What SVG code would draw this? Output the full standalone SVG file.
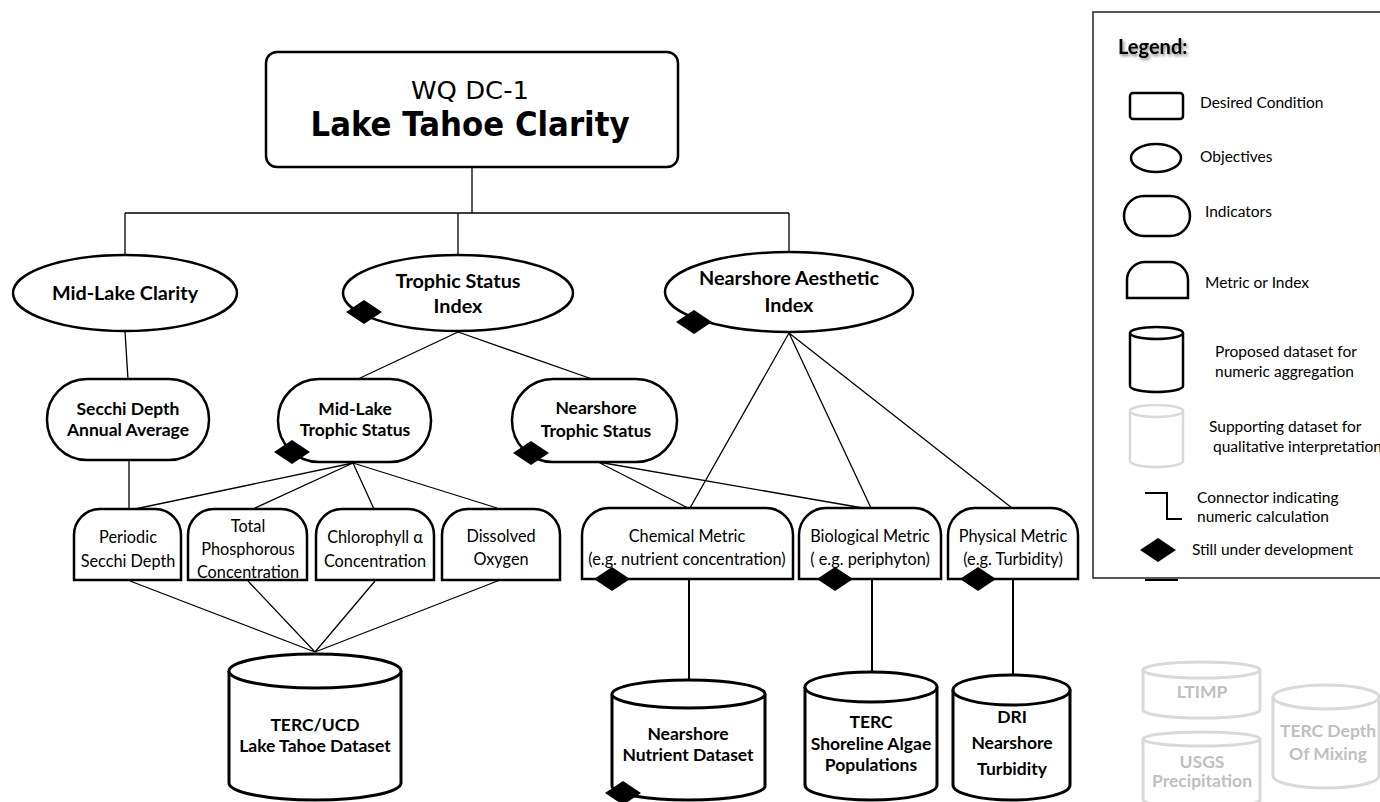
<svg xmlns="http://www.w3.org/2000/svg" width="1380" height="802" viewBox="0 0 1380 802">
<style>
.n{fill:#fff;stroke:#000;stroke-width:2.5}
.c{fill:none;stroke:#000;stroke-width:1.3}
.cy{fill:#fff;stroke:#000;stroke-width:3}
.gcy{fill:#fff;stroke:#d9d9d9;stroke-width:3}
.t{font-family:Lato,"Open Sans",sans-serif;text-anchor:middle;fill:#000}
.b{font-weight:bold}
.s16{font-size:16.3px}
.s17{font-size:17.5px}
.s18{font-size:19.8px}
.lg{font-family:Lato,"Open Sans",sans-serif;font-size:15.5px;fill:#000}
.gt{fill:#bfbfbf}
</style>
<defs>
<path id="dia" d="M-18,0 L0,-12 L18,0 L0,12 Z" fill="#000"/>
<filter id="sh" x="-20%" y="-50%" width="140%" height="200%"><feDropShadow dx="1.5" dy="2" stdDeviation="1.5" flood-color="#000" flood-opacity="0.5"/></filter>
</defs>
<g id="connectors">
<path class="c" d="M472,167 V213 M125,213 H789 M125,213 V255 M458,213 V255 M789,213 V252"/>
<path class="c" d="M125,332 L128,379"/>
<path class="c" d="M458,332 L358,379 M458,332 L592,379"/>
<path class="c" d="M129,460 V509"/>
<path class="c" d="M353,463 L135,509 M353,463 L253,509 M353,463 L374,509 M353,463 L497,508"/>
<path class="c" d="M598,462 L688,508 M598,462 L863,508"/>
<path class="c" d="M789,333 L690,508 M789,333 L871,508 M789,333 L1012,508"/>
<path class="c" d="M130,581 L315,652 M248,581 L315,652 M375,581 L315,652 M500,580 L315,652"/>
<path class="c" d="M689,579 V680 M872,579 V672 M1013,579 V675" style="stroke-width:2"/>
</g>
<g id="dc1">
<rect class="n" x="266" y="52" width="412" height="115" rx="11"/>
<text x="470" y="99" font-family="DejaVu Sans,sans-serif" font-size="24" text-anchor="middle" textLength="118" lengthAdjust="spacingAndGlyphs">WQ  DC-1</text>
<text x="470" y="136" font-family="DejaVu Sans,sans-serif" font-size="33" font-weight="bold" text-anchor="middle" textLength="319" lengthAdjust="spacingAndGlyphs">Lake Tahoe Clarity</text>
</g>
<g id="obj-midlake">
<ellipse class="n" cx="125" cy="293" rx="112" ry="38"/>
<text class="t b s18" x="125" y="300">Mid-Lake Clarity</text>
</g>
<g id="obj-trophic">
<ellipse class="n" cx="458" cy="293" rx="115" ry="38"/>
<text class="t b s18" x="458" y="288">Trophic Status</text>
<text class="t b s18" x="458" y="313">Index</text>
<use href="#dia" x="364" y="312"/>
</g>
<g id="obj-nearshore">
<ellipse class="n" cx="789" cy="292" rx="124" ry="40"/>
<text class="t b s18" x="789" y="285">Nearshore Aesthetic</text>
<text class="t b s18" x="789" y="312">Index</text>
<use href="#dia" x="694" y="322"/>
</g>
<g id="ind-secchi">
<rect class="n" x="47" y="379" width="162" height="81" rx="40"/>
<text class="t b s17" x="128" y="415">Secchi Depth</text>
<text class="t b s17" x="128" y="436">Annual Average</text>
</g>
<g id="ind-midtrophic">
<rect class="n" x="278" y="379" width="153" height="83" rx="41"/>
<text class="t b s17" x="355" y="415">Mid-Lake</text>
<text class="t b s17" x="355" y="436">Trophic Status</text>
<use href="#dia" x="292" y="452"/>
</g>
<g id="ind-neartrophic">
<rect class="n" x="512" y="379" width="165" height="83" rx="41"/>
<text class="t b s17" x="596" y="414">Nearshore</text>
<text class="t b s17" x="596" y="437">Trophic Status</text>
<use href="#dia" x="531" y="453"/>
</g>
<g id="m-periodic">
<path class="n" d="M74,580 V535 A26,26 0 0 1 100,509 H155 A26,26 0 0 1 181,535 V580 Z"/>
<text class="t s16" x="128" y="543">Periodic</text>
<text class="t s16" x="128" y="567">Secchi Depth</text>
</g>
<g id="m-tp">
<path class="n" d="M188,580 V535 A26,26 0 0 1 214,509 H281 A26,26 0 0 1 307,535 V580 Z"/>
<text class="t s16" x="248" y="532">Total</text>
<text class="t s16" x="248" y="555">Phosphorous</text>
<text class="t s16" x="248" y="578">Concentration</text>
</g>
<g id="m-chl">
<path class="n" d="M316,580 V535 A26,26 0 0 1 342,509 H408 A26,26 0 0 1 434,535 V580 Z"/>
<text class="t s16" x="375" y="543">Chlorophyll  α</text>
<text class="t s16" x="375" y="567">Concentration</text>
</g>
<g id="m-do">
<path class="n" d="M442,580 V535 A26,26 0 0 1 468,509 H534 A26,26 0 0 1 560,535 V580 Z"/>
<text class="t s16" x="501" y="542">Dissolved</text>
<text class="t s16" x="501" y="565">Oxygen</text>
</g>
<g id="m-chem">
<path class="n" d="M582,579 V535 A27,27 0 0 1 609,508 H766 A27,27 0 0 1 793,535 V579 Z"/>
<text class="t s16" x="687" y="542">Chemical Metric</text>
<text class="t s16" x="687" y="565">(e.g. nutrient concentration)</text>
<use href="#dia" x="612" y="579"/>
</g>
<g id="m-bio">
<path class="n" d="M799,579 V535 A27,27 0 0 1 826,508 H914 A27,27 0 0 1 941,535 V579 Z"/>
<text class="t s16" x="870" y="542">Biological Metric</text>
<text class="t s16" x="870" y="565">( e.g. periphyton)</text>
<use href="#dia" x="835" y="579"/>
</g>
<g id="m-phys">
<path class="n" d="M948,579 V535 A27,27 0 0 1 975,508 H1051 A27,27 0 0 1 1078,535 V579 Z"/>
<text class="t s16" x="1013" y="542">Physical Metric</text>
<text class="t s16" x="1013" y="565">(e.g. Turbidity)</text>
<use href="#dia" x="978" y="579"/>
</g>
<g id="ds-terc">
<path class="cy" d="M229,671 V783 A86,17 0 0 0 401,783 V671"/>
<ellipse class="cy" cx="315" cy="671" rx="86" ry="17"/>
<text class="t b s17" x="315" y="731">TERC/UCD</text>
<text class="t b s17" x="315" y="752">Lake Tahoe Dataset</text>
</g>
<g id="ds-nutrient">
<path class="cy" d="M612,694 V786 A76.5,14 0 0 0 765,786 V694"/>
<ellipse class="cy" cx="688.5" cy="694" rx="76.5" ry="14"/>
<text class="t b s17" x="688" y="740">Nearshore</text>
<text class="t b s17" x="688" y="761">Nutrient  Dataset</text>
<use href="#dia" x="623" y="793"/>
</g>
<g id="ds-algae">
<path class="cy" d="M805,687 V785 A66,15 0 0 0 937,785 V687"/>
<ellipse class="cy" cx="871" cy="687" rx="66" ry="15"/>
<text class="t b s17" x="871" y="728">TERC</text>
<text class="t b s17" x="871" y="750">Shoreline Algae</text>
<text class="t b s17" x="871" y="771">Populations</text>
</g>
<g id="ds-dri">
<path class="cy" d="M953,690 V785 A58.5,15 0 0 0 1070,785 V690"/>
<ellipse class="cy" cx="1011.5" cy="690" rx="58.5" ry="15"/>
<text class="t b s17" x="1012" y="723">DRI</text>
<text class="t b s17" x="1012" y="749">Nearshore</text>
<text class="t b s17" x="1012" y="775">Turbidity</text>
</g>
<g id="ds-ltimp">
<path class="gcy" d="M1143,670 V710 A58.5,8 0 0 0 1260,710 V670"/>
<ellipse class="gcy" cx="1201.5" cy="670" rx="58.5" ry="8"/>
<text class="t b s17 gt" x="1202" y="698">LTIMP</text>
</g>
<g id="ds-usgs">
<path class="gcy" d="M1143,739 V800 A58.5,7 0 0 0 1260,800 V739"/>
<ellipse class="gcy" cx="1201.5" cy="739" rx="58.5" ry="7"/>
<text class="t b s17 gt" x="1202" y="768">USGS</text>
<text class="t b s17 gt" x="1202" y="787">Precipitation</text>
</g>
<g id="ds-depth">
<path class="gcy" d="M1273,697 V776 A53,12 0 0 0 1379,776 V697"/>
<ellipse class="gcy" cx="1326" cy="697" rx="53" ry="12"/>
<text class="t b s17 gt" x="1328" y="737">TERC Depth</text>
<text class="t b s17 gt" x="1328" y="760">Of Mixing</text>
</g>
<g id="legend">
<rect x="1093" y="12" width="300" height="566" fill="#fff" stroke="#222" stroke-width="1.5"/>
<line x1="1145" y1="580" x2="1178" y2="580" stroke="#000" stroke-width="2"/>
<text class="lg b" x="1118" y="54" style="font-size:20px" filter="url(#sh)">Legend:</text>
<rect x="1130" y="93" width="53" height="26" rx="3" fill="#fff" stroke="#000" stroke-width="2.5"/>
<text class="lg" x="1200" y="108">Desired Condition</text>
<ellipse cx="1156" cy="158" rx="25" ry="14" fill="#fff" stroke="#000" stroke-width="2.5"/>
<text class="lg" x="1200" y="162">Objectives</text>
<rect x="1124" y="196" width="66" height="40" rx="20" fill="#fff" stroke="#000" stroke-width="2.5"/>
<text class="lg" x="1205" y="217">Indicators</text>
<path d="M1127,298 V280 A18,18 0 0 1 1145,262 H1170 A18,18 0 0 1 1188,280 V298 Z" fill="#fff" stroke="#000" stroke-width="2.5"/>
<text class="lg" x="1205" y="288">Metric or Index</text>
<path class="cy" d="M1130,333 V386 A26.5,6 0 0 0 1183,386 V333" style="stroke-width:2.5"/>
<ellipse class="cy" cx="1156.5" cy="333" rx="26.5" ry="6" style="stroke-width:2.5"/>
<text class="lg" x="1215" y="357">Proposed dataset for</text>
<text class="lg" x="1215" y="377">numeric aggregation</text>
<path class="gcy" d="M1130,411 V461 A26.5,6 0 0 0 1183,461 V411" style="stroke-width:2.5"/>
<ellipse class="gcy" cx="1156.5" cy="411" rx="26.5" ry="6" style="stroke-width:2.5"/>
<text class="lg" x="1209" y="432" fill="#a6a6a6">Supporting dataset for</text>
<text class="lg" x="1213" y="452" fill="#a6a6a6">qualitative interpretation</text>
<path d="M1145,493 H1167 V519 H1182" fill="none" stroke="#000" stroke-width="2"/>
<text class="lg" x="1197" y="503">Connector indicating</text>
<text class="lg" x="1197" y="522">numeric calculation</text>
<use href="#dia" x="1158" y="550"/>
<text class="lg" x="1192" y="555">Still under development</text>
</g>
</svg>
